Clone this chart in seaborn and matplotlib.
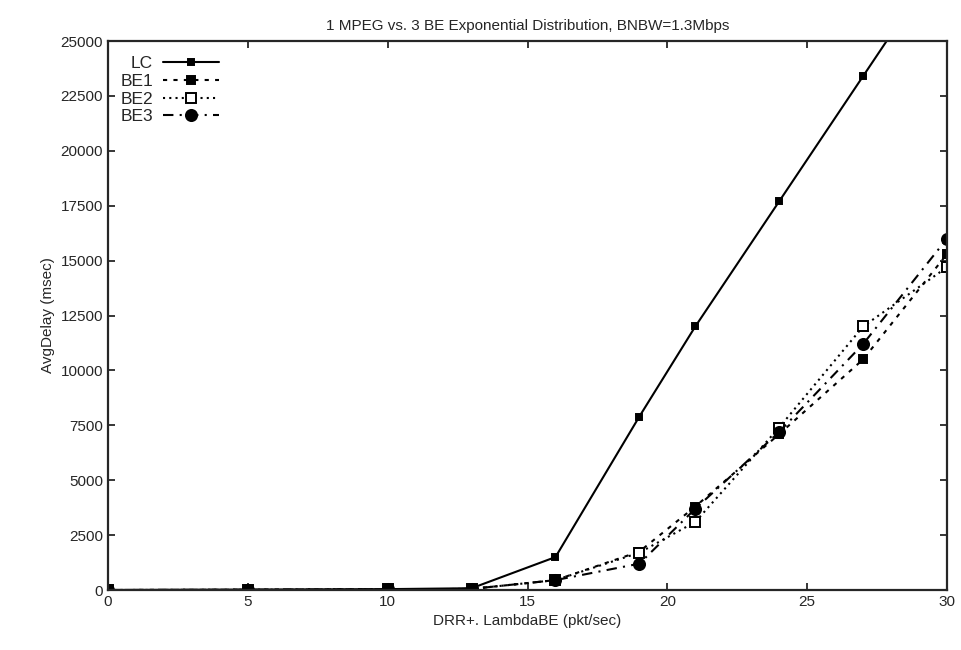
import numpy as np
import pandas as pd
import matplotlib
matplotlib.use("Agg")
import matplotlib.pyplot as plt
import seaborn as sns

# data
lambda_be = [0, 5, 10, 13, 16, 19, 21, 24, 27, 30]
lc = [0, 20, 40, 80, 1500, 7900, 12000, 17700, 23400, 29100]
be1 = [0, 10, 30, 50, 450, 1750, 3800, 7100, 10500, 15300]
be2 = [0, 10, 30, 50, 450, 1700, 3100, 7400, 12000, 14700]
be3 = [0, 10, 30, 50, 450, 1200, 3700, 7200, 11200, 16000]

series = {
    "LC": (lc, "-", "s", 4),
    "BE1": (be1, (0, (2, 3)), "s", 6),
    "BE2": (be2, (0, (1, 2)), "s", 7),
    "BE3": (be3, (0, (5, 3, 1, 3)), "o", 8),
}

sns.set_style("ticks")
plt.rcParams["font.family"] = ["Liberation Sans", "DejaVu Sans"]

fig = plt.figure(figsize=(9.62, 6.5), dpi=100)
ax = fig.add_axes([0.1123, 0.0923, 0.8721, 0.8446])

for name, (vals, ls, mk, ms) in series.items():
    df = pd.DataFrame({"x": lambda_be, "y": vals})
    face = "white" if name == "BE2" else "black"
    sns.lineplot(data=df, x="x", y="y", ax=ax, color="black", linestyle=ls,
                 linewidth=1.5, marker=mk, markersize=ms,
                 markerfacecolor=face, markeredgecolor="black",
                 markeredgewidth=1.4, label=name)

ax.set_xlim(0, 30)
ax.set_ylim(0, 25000)
ax.set_xticks(range(0, 31, 5))
ax.set_yticks(range(0, 25001, 2500))
ax.tick_params(direction="in", top=True, right=True, length=5, width=1.3, labelsize=11)
for sp in ax.spines.values():
    sp.set_linewidth(1.6)
    sp.set_visible(True)

ax.set_xlabel("DRR+. LambdaBE (pkt/sec)", fontsize=11)
ax.set_ylabel("AvgDelay (msec)", fontsize=11)
ax.set_title("1 MPEG vs. 3 BE Exponential Distribution, BNBW=1.3Mbps", fontsize=11, pad=8)

ax.legend(loc="upper left", frameon=False, markerfirst=False, fontsize=12.5,
          handlelength=3.2, labelspacing=0.15, borderaxespad=0.3,
          handletextpad=0.6, bbox_to_anchor=(0.0, 0.995))

fig.savefig("out.png", dpi=100)
